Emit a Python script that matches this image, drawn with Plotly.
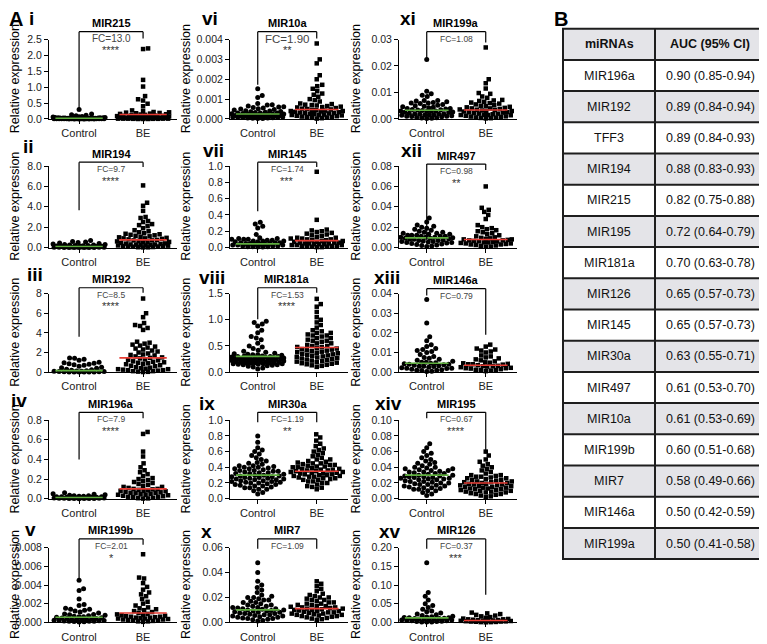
import numpy as np
import plotly.graph_objects as go

W, H = 767, 644
OFF = 8                      # the page body adds an 8 px margin around the figure
FW, FH = W - OFF, H - OFF    # figure size so that it exactly fills the window
FONT = "Liberation Sans, Arial, Helvetica, sans-serif"
GROUPS = ["Control", "BE"]

# ---------------- data ----------------
MIR215_control = [0.30, 0.16, 0.13, 0.12, 0.10, 0.08, 0.07, 0.06, 0.05, 0.05, 0.04, 0.04, 0.04, 0.03, 0.03, 0.03, 0.03,
                  0.02, 0.02, 0.02, 0.02, 0.02, 0.02, 0.02, 0.01, 0.01, 0.01, 0.01, 0.01, 0.01, 0.01, 0.01, 0.01, 0.01,
                  0.01, 0.01, 0.005, 0.005, 0.005, 0.005, 0.005, 0.005, 0.005, 0.005, 0.0, 0.0, 0.0, 0.0, 0.0, 0.0]
MIR215_BE = [2.22, 2.20, 1.23, 1.02, 0.72, 0.62, 0.58, 0.48, 0.40, 0.27, 0.25, 0.22, 0.21, 0.20, 0.19, 0.18, 0.17, 0.16,
             0.15, 0.14, 0.13, 0.12, 0.11, 0.10, 0.10, 0.09, 0.09, 0.08, 0.08, 0.07, 0.07, 0.06, 0.06, 0.05, 0.05, 0.05,
             0.04, 0.04, 0.04, 0.03, 0.03, 0.03, 0.03, 0.02, 0.02, 0.02, 0.02, 0.01, 0.01, 0.01, 0.01, 0.01, 0.005,
             0.005, 0.005, 0.0, 0.0, 0.0]
MIR215_means = [0.02, 0.14]

MIR194_control = [0.7, 0.6, 0.55, 0.5, 0.45, 0.4, 0.35, 0.3, 0.3, 0.25, 0.25, 0.2, 0.2, 0.18, 0.15, 0.15, 0.12, 0.1, 0.1,
                  0.08, 0.08, 0.06, 0.05, 0.05, 0.04, 0.03, 0.03, 0.02, 0.02, 0.01, 0.01, 0.01, 0.0, 0.0, 0.0, 0.0]
MIR194_BE = [6.1, 4.4, 4.1, 3.6, 3.0, 2.9, 2.6, 2.5, 2.3, 2.2, 2.1, 1.9, 1.7, 1.6, 1.5, 1.4, 1.35, 1.3, 1.2, 1.1, 1.0,
             0.95, 0.9, 0.85, 0.8, 0.75, 0.7, 0.65, 0.6, 0.55, 0.5, 0.45, 0.4, 0.38, 0.35, 0.3, 0.28, 0.25, 0.22, 0.2,
             0.18, 0.15, 0.12, 0.1, 0.08, 0.05, 0.03, 0.02, 0.01, 1.25, 1.15, 1.05, 0.9, 0.7, 0.5, 0.3, 0.2, 0.1]
MIR194_means = [0.1, 0.75]

MIR192_control = [1.45, 1.4, 1.3, 1.2, 1.0, 0.95, 0.9, 0.85, 0.8, 0.75, 0.7, 0.6, 0.5, 0.45, 0.4, 0.3, 0.25, 0.2, 0.15,
                  0.12, 0.1, 0.08, 0.06, 0.05, 0.04, 0.03, 0.02, 0.01, 0.01, 0.0, 0.0, 0.0]
MIR192_BE = [7.5, 6.0, 5.6, 5.0, 4.8, 4.7, 4.5, 4.3, 3.1, 3.0, 2.9, 2.8, 2.6, 2.5, 2.4, 2.3, 2.2, 2.0, 1.9, 1.8, 1.7,
             1.6, 1.5, 1.4, 1.3, 1.2, 1.1, 1.0, 0.95, 0.9, 0.8, 0.7, 0.6, 0.5, 0.4, 0.35, 0.3, 0.25, 0.2, 0.15, 0.1,
             0.05, 0.03, 0.01, 2.7, 2.1, 1.75, 1.45, 1.25, 1.05, 0.85, 0.65, 0.45, 0.3, 0.2, 0.1]
MIR192_means = [0.15, 1.45]

MIR196a_control = [0.06, 0.05, 0.045, 0.04, 0.035, 0.03, 0.03, 0.025, 0.025, 0.02, 0.02, 0.02, 0.015, 0.015, 0.015,
                   0.01, 0.01, 0.01, 0.01, 0.008, 0.006, 0.005, 0.005, 0.004, 0.003, 0.002, 0.002, 0.001, 0.001, 0.0]
MIR196a_BE = [0.68, 0.66, 0.48, 0.43, 0.36, 0.32, 0.29, 0.27, 0.25, 0.23, 0.21, 0.2, 0.19, 0.18, 0.17, 0.16, 0.15,
              0.14, 0.13, 0.12, 0.11, 0.1, 0.095, 0.09, 0.085, 0.08, 0.075, 0.07, 0.065, 0.06, 0.055, 0.05, 0.045,
              0.04, 0.035, 0.03, 0.025, 0.02, 0.015, 0.01, 0.005, 0.003, 0.001, 0.12, 0.1, 0.08, 0.06, 0.04, 0.02]
MIR196a_means = [0.012, 0.1]

MIR199b_control = [0.0045, 0.0036, 0.0034, 0.0025, 0.0019, 0.0018, 0.0015, 0.0014, 0.0014, 0.0013, 0.0012, 0.0011,
                   0.001, 0.0009, 0.00085, 0.0008, 0.00075, 0.0007, 0.00065, 0.0006, 0.00055, 0.0005, 0.00045, 0.0004,
                   0.00035, 0.0003, 0.00028, 0.00025, 0.00022, 0.0002, 0.00018, 0.00015, 0.00012, 0.0001, 0.00008,
                   0.00005, 0.00003, 0.0006, 0.0004, 0.0003, 0.0002, 0.0001]
MIR199b_BE = [0.0073, 0.0048, 0.0047, 0.0042, 0.0038, 0.0035, 0.0032, 0.003, 0.0028, 0.0025, 0.0022, 0.002, 0.0018,
              0.0016, 0.0015, 0.0014, 0.0013, 0.0012, 0.0011, 0.001, 0.0009, 0.00085, 0.0008, 0.00075, 0.0007,
              0.00065, 0.0006, 0.00055, 0.0005, 0.00045, 0.0004, 0.00035, 0.0003, 0.00025, 0.0002, 0.00015, 0.0001,
              0.00005, 0.0006, 0.0005, 0.0004, 0.0003, 0.0002, 0.0001]
MIR199b_means = [0.00055, 0.001]

MIR10a_control = [0.00152, 0.00118, 0.00108, 0.00078, 0.00072, 0.0007, 0.00065, 0.00062, 0.0006, 0.00058, 0.00055,
                  0.00052, 0.0005, 0.00048, 0.00045, 0.00042, 0.0004, 0.00038, 0.00036, 0.00034, 0.00032, 0.0003,
                  0.0003, 0.00028, 0.00026, 0.00025, 0.00024, 0.00022, 0.0002, 0.0002, 0.00018, 0.00017, 0.00016,
                  0.00015, 0.00014, 0.00013, 0.00012, 0.00011, 0.0001, 0.0001, 0.00009, 0.00008, 0.00007, 0.00006,
                  0.00005, 0.00004, 0.00003, 0.00002, 0.0003, 0.00025, 0.0002, 0.00015, 0.0001, 0.00005]
MIR10a_BE = [0.0038, 0.003, 0.0028, 0.0022, 0.002, 0.00172, 0.00165, 0.00152, 0.0014, 0.00128, 0.00122, 0.00112,
             0.001, 0.00095, 0.00088, 0.00078, 0.00075, 0.00072, 0.0007, 0.00068, 0.00065, 0.00062, 0.0006, 0.00058,
             0.00055, 0.00052, 0.0005, 0.00048, 0.00046, 0.00044, 0.00042, 0.0004, 0.00038, 0.00036, 0.00034,
             0.00032, 0.0003, 0.00028, 0.00026, 0.00024, 0.00022, 0.0002, 0.00018, 0.00016, 0.00014, 0.00012,
             0.0001, 0.00008, 0.00006, 0.00004, 0.00002, 0.0004, 0.0003, 0.0002, 0.0001]
MIR10a_means = [0.00025, 0.00048]

MIR145_control = [0.31, 0.29, 0.26, 0.24, 0.16, 0.12, 0.11, 0.11, 0.1, 0.1, 0.1, 0.09, 0.09, 0.08, 0.08, 0.08, 0.07,
                  0.07, 0.06, 0.06, 0.06, 0.05, 0.05, 0.05, 0.04, 0.04, 0.04, 0.03, 0.03, 0.03, 0.02, 0.02, 0.02,
                  0.01, 0.01, 0.01, 0.005, 0.005]
MIR145_BE = [0.93, 0.34, 0.22, 0.21, 0.2, 0.19, 0.18, 0.17, 0.16, 0.15, 0.14, 0.13, 0.12, 0.12, 0.11, 0.11, 0.1, 0.1,
             0.09, 0.09, 0.08, 0.08, 0.07, 0.07, 0.06, 0.06, 0.05, 0.05, 0.04, 0.04, 0.03, 0.03, 0.02, 0.02, 0.01,
             0.01, 0.005, 0.005, 0.06, 0.05, 0.04, 0.03, 0.02, 0.01]
MIR145_means = [0.045, 0.085]

MIR181a_control = [0.97, 0.95, 0.92, 0.88, 0.8, 0.75, 0.68, 0.65, 0.62, 0.55, 0.5, 0.48, 0.45, 0.42, 0.4, 0.38, 0.36,
                   0.34, 0.33, 0.32, 0.31, 0.3, 0.29, 0.28, 0.27, 0.26, 0.25, 0.24, 0.23, 0.22, 0.21, 0.2, 0.19, 0.18,
                   0.17, 0.16, 0.15, 0.14, 0.13, 0.12, 0.11, 0.1, 0.08, 0.06, 0.35, 0.33, 0.31, 0.3, 0.29, 0.28, 0.27,
                   0.26, 0.25, 0.24, 0.23, 0.22, 0.21, 0.2, 0.19, 0.18, 0.17, 0.16, 0.15, 0.14, 0.3, 0.28, 0.26, 0.24,
                   0.22, 0.2, 0.18, 0.16]
MIR181a_BE = [1.4, 1.3, 1.25, 1.15, 1.05, 1.0, 0.95, 0.9, 0.85, 0.8, 0.78, 0.75, 0.72, 0.7, 0.68, 0.65, 0.62, 0.6,
              0.58, 0.55, 0.52, 0.5, 0.48, 0.46, 0.44, 0.42, 0.4, 0.38, 0.36, 0.34, 0.32, 0.3, 0.28, 0.26, 0.24, 0.22,
              0.2, 0.18, 0.16, 0.14, 0.12, 0.1, 0.75, 0.7, 0.65, 0.6, 0.55, 0.5, 0.48, 0.45, 0.43, 0.41, 0.39, 0.37,
              0.35, 0.33, 0.31, 0.29, 0.27, 0.25, 0.23, 0.21, 0.19, 0.17, 0.15, 0.13]
MIR181a_means = [0.3, 0.47]

MIR30a_control = [0.8, 0.72, 0.65, 0.62, 0.6, 0.57, 0.55, 0.52, 0.5, 0.48, 0.46, 0.44, 0.42, 0.41, 0.4, 0.39, 0.38,
                  0.37, 0.36, 0.35, 0.34, 0.33, 0.32, 0.31, 0.3, 0.29, 0.28, 0.27, 0.26, 0.25, 0.24, 0.23, 0.22, 0.21,
                  0.2, 0.19, 0.18, 0.17, 0.16, 0.15, 0.14, 0.12, 0.1, 0.08, 0.06, 0.45, 0.42, 0.4, 0.38, 0.36, 0.35,
                  0.33, 0.32, 0.3, 0.29, 0.28, 0.27, 0.26, 0.25, 0.24, 0.23, 0.22, 0.21, 0.2, 0.18, 0.16, 0.14, 0.12]
MIR30a_BE = [0.82, 0.78, 0.74, 0.7, 0.67, 0.64, 0.62, 0.6, 0.58, 0.56, 0.54, 0.52, 0.5, 0.48, 0.46, 0.45, 0.44, 0.43,
             0.42, 0.41, 0.4, 0.39, 0.38, 0.37, 0.36, 0.35, 0.34, 0.33, 0.32, 0.31, 0.3, 0.29, 0.28, 0.27, 0.26, 0.25,
             0.24, 0.22, 0.2, 0.18, 0.16, 0.14, 0.12, 0.5, 0.47, 0.45, 0.43, 0.41, 0.4, 0.38, 0.37, 0.36, 0.35, 0.34,
             0.33, 0.32, 0.31, 0.3, 0.29, 0.28, 0.26, 0.24, 0.22, 0.2, 0.15]
MIR30a_means = [0.3, 0.35]

MIR7_control = [0.048, 0.04, 0.033, 0.03, 0.028, 0.026, 0.024, 0.022, 0.021, 0.02, 0.019, 0.018, 0.017, 0.016, 0.015,
                0.014, 0.013, 0.012, 0.0115, 0.011, 0.0105, 0.01, 0.0095, 0.009, 0.0085, 0.008, 0.0075, 0.007, 0.0065,
                0.006, 0.0055, 0.005, 0.0045, 0.004, 0.0035, 0.003, 0.0025, 0.002, 0.0015, 0.001, 0.02, 0.018, 0.016,
                0.014, 0.013, 0.012, 0.011, 0.01, 0.009, 0.008, 0.007, 0.006, 0.005, 0.004, 0.003]
MIR7_BE = [0.033, 0.031, 0.029, 0.027, 0.025, 0.023, 0.022, 0.021, 0.02, 0.019, 0.018, 0.017, 0.016, 0.015, 0.014,
           0.013, 0.0125, 0.012, 0.0115, 0.011, 0.0105, 0.01, 0.0095, 0.009, 0.0085, 0.008, 0.0075, 0.007, 0.0065,
           0.006, 0.0055, 0.005, 0.0045, 0.004, 0.0035, 0.003, 0.0025, 0.002, 0.02, 0.018, 0.016, 0.015, 0.014,
           0.013, 0.012, 0.011, 0.01, 0.009, 0.008, 0.007, 0.006, 0.005]
MIR7_means = [0.01, 0.011]

MIR199a_control = [0.0225, 0.0105, 0.0095, 0.009, 0.0085, 0.007, 0.007, 0.0068, 0.0065, 0.0062, 0.006, 0.006, 0.0058,
                   0.0055, 0.0052, 0.005, 0.0048, 0.0046, 0.0044, 0.0042, 0.004, 0.0038, 0.0036, 0.0034, 0.0032,
                   0.003, 0.0029, 0.0028, 0.0026, 0.0024, 0.0022, 0.002, 0.0019, 0.0018, 0.0016, 0.0015, 0.0014,
                   0.0012, 0.001, 0.0009, 0.0008, 0.0006, 0.0005, 0.0004, 0.0003, 0.0002, 0.004, 0.0035, 0.003,
                   0.0025, 0.002, 0.0015, 0.001]
MIR199a_BE = [0.027, 0.015, 0.0135, 0.0115, 0.0098, 0.0095, 0.0085, 0.008, 0.0072, 0.007, 0.0068, 0.0065, 0.0062,
              0.006, 0.0058, 0.0055, 0.0052, 0.005, 0.0048, 0.0046, 0.0044, 0.0042, 0.004, 0.0038, 0.0036, 0.0034,
              0.0032, 0.003, 0.0028, 0.0026, 0.0024, 0.0022, 0.002, 0.0018, 0.0016, 0.0015, 0.0014, 0.0012, 0.001,
              0.0009, 0.0008, 0.0006, 0.0005, 0.0004, 0.0003, 0.0002, 0.004, 0.0035, 0.003, 0.0025, 0.002, 0.0015]
MIR199a_means = [0.0033, 0.0034]

MIR497_control = [0.029, 0.025, 0.022, 0.021, 0.02, 0.019, 0.018, 0.017, 0.016, 0.015, 0.015, 0.014, 0.014, 0.013,
                  0.013, 0.012, 0.012, 0.011, 0.011, 0.01, 0.01, 0.0095, 0.009, 0.0085, 0.008, 0.0075, 0.007, 0.0065,
                  0.006, 0.0055, 0.005, 0.0045, 0.004, 0.0035, 0.003, 0.0025, 0.002, 0.0015, 0.001, 0.012, 0.011,
                  0.01, 0.009, 0.008, 0.007, 0.006, 0.005]
MIR497_BE = [0.06, 0.039, 0.037, 0.035, 0.032, 0.028, 0.022, 0.02, 0.019, 0.018, 0.017, 0.016, 0.015, 0.014, 0.013,
             0.012, 0.011, 0.01, 0.0095, 0.009, 0.0085, 0.008, 0.0075, 0.007, 0.0065, 0.006, 0.0055, 0.005, 0.0045,
             0.004, 0.0035, 0.003, 0.0025, 0.002, 0.0015, 0.001, 0.0008, 0.008, 0.007, 0.006, 0.005, 0.004, 0.003]
MIR497_means = [0.0095, 0.0078]

MIR146a_control = [0.037, 0.025, 0.018, 0.016, 0.014, 0.013, 0.012, 0.0115, 0.011, 0.0105, 0.01, 0.009, 0.008,
                   0.0075, 0.007, 0.0065, 0.006, 0.0055, 0.005, 0.0048, 0.0045, 0.0042, 0.004, 0.0038, 0.0035,
                   0.0032, 0.003, 0.0028, 0.0025, 0.0022, 0.002, 0.0018, 0.0015, 0.0012, 0.001, 0.0008, 0.0005, 0.0003,
                   0.005, 0.004, 0.003, 0.002, 0.001]
MIR146a_BE = [0.014, 0.013, 0.012, 0.0115, 0.011, 0.0105, 0.01, 0.0085, 0.008, 0.0075, 0.007, 0.0065, 0.006, 0.0055,
              0.005, 0.0048, 0.0045, 0.0042, 0.004, 0.0038, 0.0035, 0.0032, 0.003, 0.0028, 0.0025, 0.0022, 0.002,
              0.0018, 0.0015, 0.0012, 0.001, 0.0008, 0.0005, 0.004, 0.003, 0.002, 0.001]
MIR146a_means = [0.0045, 0.0035]

MIR195_control = [0.07, 0.065, 0.06, 0.058, 0.055, 0.052, 0.05, 0.048, 0.046, 0.044, 0.042, 0.04, 0.039, 0.038, 0.037,
                  0.036, 0.035, 0.034, 0.033, 0.032, 0.031, 0.03, 0.029, 0.028, 0.027, 0.026, 0.025, 0.024, 0.023,
                  0.022, 0.021, 0.02, 0.019, 0.018, 0.017, 0.016, 0.015, 0.014, 0.013, 0.012, 0.01, 0.008, 0.006, 0.004,
                  0.045, 0.04, 0.038, 0.036, 0.034, 0.032, 0.03, 0.029, 0.028, 0.027, 0.026, 0.025, 0.024, 0.022,
                  0.02, 0.018, 0.016, 0.014, 0.012, 0.01]
MIR195_BE = [0.06, 0.055, 0.05, 0.047, 0.044, 0.042, 0.04, 0.038, 0.036, 0.034, 0.032, 0.03, 0.029, 0.028, 0.027,
             0.026, 0.025, 0.024, 0.023, 0.022, 0.021, 0.02, 0.019, 0.018, 0.017, 0.016, 0.015, 0.014, 0.013, 0.012,
             0.011, 0.01, 0.009, 0.008, 0.007, 0.006, 0.005, 0.004, 0.003, 0.002, 0.03, 0.028, 0.026, 0.024, 0.022,
             0.021, 0.02, 0.019, 0.018, 0.017, 0.016, 0.015, 0.014, 0.013, 0.012, 0.011, 0.01, 0.009, 0.008, 0.006]
MIR195_means = [0.03, 0.02]

MIR126_control = [0.16, 0.08, 0.07, 0.06, 0.05, 0.045, 0.04, 0.035, 0.03, 0.028, 0.025, 0.022, 0.02, 0.018, 0.016,
                  0.015, 0.014, 0.013, 0.012, 0.011, 0.01, 0.009, 0.008, 0.007, 0.006, 0.005, 0.004, 0.003, 0.002,
                  0.001, 0.001, 0.0005, 0.012, 0.01, 0.008, 0.006, 0.004, 0.002]
MIR126_BE = [0.026, 0.024, 0.022, 0.02, 0.018, 0.016, 0.014, 0.012, 0.01, 0.009, 0.008, 0.007, 0.006, 0.005, 0.0045,
             0.004, 0.0035, 0.003, 0.0025, 0.002, 0.0015, 0.001, 0.0005, 0.0005, 0.0, 0.008, 0.006, 0.004, 0.002]
MIR126_means = [0.012, 0.005]

# Table B
TABLE_HEADER = ["miRNAs", "AUC (95% CI)"]
TABLE_MIRNAS = ["MIR196a", "MIR192", "TFF3", "MIR194", "MIR215", "MIR195", "MIR181a", "MIR126", "MIR145",
                "MIR30a", "MIR497", "MIR10a", "MIR199b", "MIR7", "MIR146a", "MIR199a"]
TABLE_AUC = ["0.90 (0.85-0.94)", "0.89 (0.84-0.94)", "0.89 (0.84-0.93)", "0.88 (0.83-0.93)", "0.82 (0.75-0.88)",
             "0.72 (0.64-0.79)", "0.70 (0.63-0.78)", "0.65 (0.57-0.73)", "0.65 (0.57-0.73)", "0.63 (0.55-0.71)",
             "0.61 (0.53-0.70)", "0.61 (0.53-0.69)", "0.60 (0.51-0.68)", "0.58 (0.49-0.66)", "0.50 (0.42-0.59)",
             "0.50 (0.41-0.58)"]

# ---------------- panel layout specs (pixel positions in the window) ----------------
COL_X = [(49, 177), (230, 348), (399, 517)]
ROW_Y = [(34, 115), (163, 246), (293, 373), (422, 502), (552, 628)]
XR = (-0.47, 1.53)

PANELS = [
    dict(num="i", name="MIR215", d=(MIR215_control, MIR215_BE, MIR215_means), fc="FC=13.0", fcs=10, st="****",
         ymax=2.5, dt=0.5, fmt=".1f", c=0, r=0, br=(26, 106, 33), lab=(31, 13)),
    dict(num="ii", name="MIR194", d=(MIR194_control, MIR194_BE, MIR194_means), fc="FC=9.7", fcs=8.5, st="****",
         ymax=8.0, dt=2.0, fmt=".1f", c=0, r=1, br=(159, 208, 164), lab=(28, 143)),
    dict(num="iii", name="MIR192", d=(MIR192_control, MIR192_BE, MIR192_means), fc="FC=8.5", fcs=8.5, st="****",
         ymax=8, dt=2, fmt=".0f", c=0, r=2, br=(287, 337, 292), lab=(35, 273)),
    dict(num="iv", name="MIR196a", d=(MIR196a_control, MIR196a_BE, MIR196a_means), fc="FC=7.9", fcs=8.5, st="****",
         ymax=0.8, dt=0.2, fmt=".1f", c=0, r=3, br=(414, 462, 420), lab=(19, 402)),
    dict(num="v", name="MIR199b", d=(MIR199b_control, MIR199b_BE, MIR199b_means), fc="FC=2.01", fcs=8.5, st="*",
         ymax=0.008, dt=0.002, fmt=".3f", c=0, r=4, br=(543, 587, 549), lab=(30, 533)),
    dict(num="vi", name="MIR10a", d=(MIR10a_control, MIR10a_BE, MIR10a_means), fc="FC=1.90", fcs=11.5, st="**",
         ymax=0.004, dt=0.001, fmt=".3f", c=1, r=0, br=(26, 80, 33), lab=(210, 13)),
    dict(num="vii", name="MIR145", d=(MIR145_control, MIR145_BE, MIR145_means), fc="FC=1.74", fcs=8.5, st="***",
         ymax=1.0, dt=0.2, fmt=".1f", c=1, r=1, br=(159, 209, 164), lab=(213, 147)),
    dict(num="viii", name="MIR181a", d=(MIR181a_control, MIR181a_BE, MIR181a_means), fc="FC=1.53", fcs=8.5,
         st="****", ymax=1.5, dt=0.5, fmt=".1f", c=1, r=2, br=(287, 319, 292), lab=(212, 277)),
    dict(num="ix", name="MIR30a", d=(MIR30a_control, MIR30a_BE, MIR30a_means), fc="FC=1.19", fcs=8.5, st="**",
         ymax=1.0, dt=0.2, fmt=".1f", c=1, r=3, br=(414, 424, 424), lab=(207, 405)),
    dict(num="x", name="MIR7", d=(MIR7_control, MIR7_BE, MIR7_means), fc="FC=1.09", fcs=8.5, st="",
         ymax=0.06, dt=0.02, fmt=".2f", c=1, r=4, br=(543, 553, 553), lab=(206, 535)),
    dict(num="xi", name="MIR199a", d=(MIR199a_control, MIR199a_BE, MIR199a_means), fc="FC=1.08", fcs=8.5, st="",
         ymax=0.03, dt=0.01, fmt=".2f", c=2, r=0, br=(26, 53, 37), lab=(408, 13)),
    dict(num="xii", name="MIR497", d=(MIR497_control, MIR497_BE, MIR497_means), fc="FC=0.98", fcs=8.5, st="**",
         ymax=0.08, dt=0.02, fmt=".2f", c=2, r=1, br=(161, 238, 167), lab=(412, 147)),
    dict(num="xiii", name="MIR146a", d=(MIR146a_control, MIR146a_BE, MIR146a_means), fc="FC=0.79", fcs=8.5, st="",
         ymax=0.04, dt=0.01, fmt=".2f", c=2, r=2, br=(288, 295, 335), lab=(387, 277)),
    dict(num="xiv", name="MIR195", d=(MIR195_control, MIR195_BE, MIR195_means), fc="FC=0.67", fcs=8.5, st="****",
         ymax=0.10, dt=0.02, fmt=".2f", c=2, r=3, br=(414, 420, 456), lab=(388, 405)),
    dict(num="xv", name="MIR126", d=(MIR126_control, MIR126_BE, MIR126_means), fc="FC=0.37", fcs=8.5, st="***",
         ymax=0.20, dt=0.05, fmt=".2f", c=2, r=4, br=(543, 553, 600), lab=(390, 535)),
]

GREEN = "#5fae3e"
RED = "#e63b32"
GRAY = "#e4e4e8"
BORDER = "#1e1e1e"


def px2p(x):
    return (x - OFF) / FW


def py2p(y):
    return 1 - (y - OFF) / FH


def swarm_offsets(values, ymax, h_px, d=4.8, wmax=26.0):
    vals = np.asarray(values, float)
    pyv = vals / ymax * h_px
    order = np.argsort(pyv, kind="stable")
    cands = [0.0]
    s = 0.5
    while s <= wmax:
        cands += [s, -s]
        s += 0.5
    px_l, py_l = [], []
    out = np.zeros(len(vals))
    for i in order:
        y = pyv[i]
        if px_l:
            pxa, pya = np.array(px_l), np.array(py_l)
            near = np.abs(pya - y) < d
            nx, ny = pxa[near], pya[near]
        else:
            nx, ny = np.array([]), np.array([])
        best = None
        best_c, best_score = 0.0, -1.0
        for c in cands:
            if nx.size == 0:
                best = c
                break
            dist = np.sqrt((nx - c) ** 2 + (ny - y) ** 2).min()
            if dist >= d:
                best = c
                break
            if dist > best_score:
                best_score, best_c = dist, c
        if best is None:
            best = best_c
        out[i] = best
        px_l.append(best)
        py_l.append(y)
    return out


fig = go.Figure()
annotations = []
shapes = []
layout_axes = {}

for k, p in enumerate(PANELS):
    n = k + 1
    xs = "" if n == 1 else str(n)
    x0, x1 = COL_X[p["c"]]
    y0, y1 = ROW_Y[p["r"]]
    ppu = (x1 - x0) / (XR[1] - XR[0])
    hpx = y1 - y0
    ctrl, be, means = p["d"]
    for gi, (vals, sym, sz) in enumerate([(ctrl, "circle", 5.0), (be, "square", 4.5)]):
        offs = swarm_offsets(vals, p["ymax"], hpx)
        fig.add_trace(go.Scatter(
            x=gi + offs / ppu, y=vals, mode="markers",
            marker=dict(symbol=sym, size=sz, color="black", line=dict(width=0)),
            xaxis="x" + xs, yaxis="y" + xs, cliponaxis=False, hoverinfo="skip"))
    for gi, col in enumerate([GREEN, RED]):
        fig.add_trace(go.Scatter(
            x=[gi - 0.37, gi + 0.37], y=[means[gi], means[gi]], mode="lines",
            line=dict(color=col, width=1.6), xaxis="x" + xs, yaxis="y" + xs,
            cliponaxis=False, hoverinfo="skip"))

    layout_axes["xaxis" + xs] = dict(
        domain=[px2p(x0), px2p(x1)], range=list(XR), anchor="y" + xs,
        tickvals=[0, 1], ticktext=GROUPS, showline=True, linecolor="black", linewidth=1,
        ticks="outside", ticklen=4, tickcolor="black", showgrid=False, zeroline=False,
        tickfont=dict(size=11, color="#222", family=FONT), fixedrange=True)
    layout_axes["yaxis" + xs] = dict(
        domain=[py2p(y1), py2p(y0)], range=[0, p["ymax"]], anchor="x" + xs,
        dtick=p["dt"], tick0=0, tickformat=p["fmt"], showline=True, linecolor="black", linewidth=1,
        ticks="outside", ticklen=4, tickcolor="black", showgrid=False, zeroline=False,
        tickfont=dict(size=10.5, color="#222", family=FONT), fixedrange=True)

    # significance bracket
    top, lb, rb = p["br"]
    xr = "x" + xs
    for (xa, ya, xb, yb) in [(0, lb, 0, top), (0, top, 1, top), (1, top, 1, rb)]:
        shapes.append(dict(type="line", xref=xr, yref="paper", x0=xa, x1=xb,
                           y0=py2p(ya), y1=py2p(yb), line=dict(color="black", width=1.2)))
    annotations.append(dict(x=0.5, y=py2p(top - 0.5), xref=xr, yref="paper", text="<b>" + p["name"] + "</b>",
                            showarrow=False, yanchor="bottom", xanchor="center",
                            font=dict(size=11, color="black", family=FONT)))
    annotations.append(dict(x=0.5, y=py2p(top + 7), xref=xr, yref="paper", text=p["fc"],
                            showarrow=False, yanchor="middle", xanchor="center",
                            font=dict(size=p["fcs"], color="#444", family=FONT)))
    if p["st"]:
        annotations.append(dict(x=0.5, y=py2p(top + 19), xref=xr, yref="paper", text=p["st"],
                                showarrow=False, yanchor="middle", xanchor="center",
                                font=dict(size=11, color="#333", family=FONT)))
    # panel numeral
    annotations.append(dict(x=px2p(p["lab"][0]), y=py2p(p["lab"][1]), xref="paper", yref="paper",
                            text="<b>" + p["num"] + "</b>", showarrow=False, xanchor="center",
                            yanchor="middle", font=dict(size=19, color="black", family=FONT)))
    # y-axis title
    tx = [15, 186, 356][p["c"]]
    annotations.append(dict(x=px2p(tx), y=py2p((y0 + y1) / 2), xref="paper", yref="paper",
                            text="Relative expression", textangle=-90, showarrow=False,
                            xanchor="center", yanchor="middle",
                            font=dict(size=12.5, color="black", family=FONT)))

annotations.append(dict(x=px2p(16), y=py2p(13), xref="paper", yref="paper", text="<b>A</b>",
                        xanchor="center", yanchor="middle", showarrow=False,
                        font=dict(size=20, color="black", family=FONT)))
annotations.append(dict(x=px2p(561), y=py2p(13), xref="paper", yref="paper", text="<b>B</b>",
                        xanchor="center", yanchor="middle", showarrow=False,
                        font=dict(size=20, color="black", family=FONT)))

# ---------------- table B (cells drawn as shapes + text) ----------------
TX = [563, 655, 765]
TY0, RH = 23, 31.8
rows = [("<b>" + TABLE_HEADER[0] + "</b>", "<b>" + TABLE_HEADER[1] + "</b>")] + list(zip(TABLE_MIRNAS, TABLE_AUC))
for i, (a, b) in enumerate(rows):
    ytop = TY0 + i * RH
    fill = GRAY if i % 2 == 0 else "white"
    shapes.append(dict(type="rect", xref="paper", yref="paper", x0=px2p(TX[0]), x1=px2p(TX[2]),
                       y0=py2p(ytop + RH), y1=py2p(ytop), fillcolor=fill, line=dict(width=0), layer="below"))
    for j, txt in enumerate([a, b]):
        annotations.append(dict(x=px2p((TX[j] + TX[j + 1]) / 2), y=py2p(ytop + RH / 2), xref="paper",
                                yref="paper", text=txt, showarrow=False, xanchor="center", yanchor="middle",
                                font=dict(size=12.5, color="#111", family=FONT)))
for i in range(len(rows) + 1):
    yy = py2p(TY0 + i * RH)
    shapes.append(dict(type="line", xref="paper", yref="paper", x0=px2p(TX[0] - 1), x1=px2p(TX[2] + 1),
                       y0=yy, y1=yy, line=dict(color=BORDER, width=2)))
for xv in TX:
    shapes.append(dict(type="line", xref="paper", yref="paper", x0=px2p(xv), x1=px2p(xv),
                       y0=py2p(TY0 + len(rows) * RH), y1=py2p(TY0), line=dict(color=BORDER, width=2)))

fig.update_layout(width=FW, height=FH, margin=dict(l=0, r=0, t=0, b=0), paper_bgcolor="white",
                  plot_bgcolor="white", showlegend=False, annotations=annotations, shapes=shapes,
                  font=dict(family=FONT), **layout_axes)

fig.write_html("out.html")
